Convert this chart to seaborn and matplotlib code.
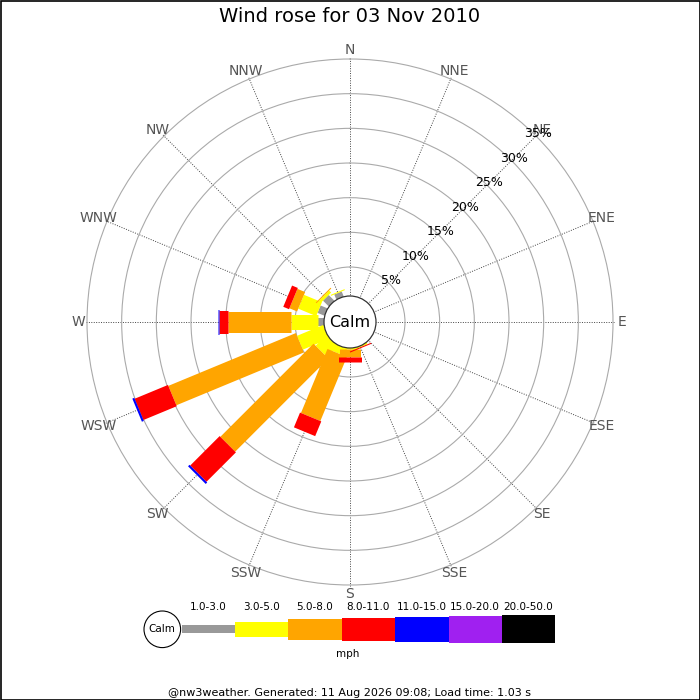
import numpy as np
import pandas as pd
import matplotlib
matplotlib.use("Agg")
import matplotlib.pyplot as plt
from matplotlib.patches import Circle, Rectangle
import seaborn as sns

# ---------------- data ----------------
directions = ["N", "NNE", "NE", "ENE", "E", "ESE", "SE", "SSE",
              "S", "SSW", "SW", "WSW", "W", "WNW", "NW", "NNW"]
speed_bins = ["1.0-3.0", "3.0-5.0", "5.0-8.0", "8.0-11.0",
              "11.0-15.0", "15.0-20.0", "20.0-50.0"]
# percentage of time per direction for each speed bin (mph)
pct_1_3   = [0, 0, 0, 0, 0, 0, 0, 0.5, 0.3, 0.5, 0.6, 0.8, 1.7, 1.9, 2.0, 1.6]
pct_3_5   = [0, 0, 0, 0, 0, 0, 0, 0.5, 0.6, 1.4, 2.4, 4.1, 3.9, 2.8, 0.4, 0.15]
pct_5_8   = [0, 0, 0, 0, 0, 0, 0, 0.0, 1.2, 10.0, 19.0, 19.9, 9.0, 1.2, 0.15, 0]
pct_8_11  = [0, 0, 0, 0, 0, 0, 0, 0.15, 0.7, 2.3, 6.0, 5.2, 1.3, 0.9, 0, 0]
pct_11_15 = [0, 0, 0, 0, 0, 0, 0, 0, 0, 0, 0.3, 0.3, 0.2, 0, 0, 0]
pct_15_20 = [0] * 16
pct_20_50 = [0] * 16
ring_pcts = [5, 10, 15, 20, 25, 30, 35]

title_text = "Wind rose for 03 Nov 2010"
unit_text = "mph"
calm_text = "Calm"
footer_text = "@nw3weather. Generated: 11 Aug 2026 09:08; Load time: 1.03 s"

# ---------------- styles ----------------
bin_colors = ["#999999", "#ffff00", "#ffa500", "#ff0000",
              "#0000ff", "#a020f0", "#000000"]
bin_width_px = [8, 15, 21, 23, 25, 27, 28]

sns.set_theme(style="white")
plt.rcParams["font.family"] = ["DejaVu Sans"]
plt.rcParams["text.color"] = "black"

DPI = 100
fig = plt.figure(figsize=(7, 7), dpi=DPI)
fig.patch.set_facecolor("white")

R_ORIGIN = -2.93
R_MAX = 35.3
R_PIX = 263 * (R_MAX - R_ORIGIN) / (35 - R_ORIGIN)
cx, cy = 350, 700 - 322
ax = fig.add_axes([(cx - R_PIX) / 700, (cy - R_PIX) / 700,
                   2 * R_PIX / 700, 2 * R_PIX / 700], projection="polar")
ax.set_theta_zero_location("N")
ax.set_theta_direction(-1)

# ---------------- bars ----------------
series = [pct_1_3, pct_3_5, pct_5_8, pct_8_11, pct_11_15, pct_15_20, pct_20_50]
thetas = np.deg2rad(np.arange(16) * 22.5)
rows = []
seg = 0
for i, d in enumerate(directions):
    base = 0.0
    for j, b in enumerate(speed_bins):
        v = series[j][i]
        if v > 0:
            rows.append(dict(theta=thetas[i], r=base, seg=seg, bin=b))
            rows.append(dict(theta=thetas[i], r=base + v, seg=seg, bin=b))
            seg += 1
        base += v
df = pd.DataFrame(rows)

palette = {b: c for b, c in zip(speed_bins, bin_colors)}
sizes = {b: w * 72 / DPI for b, w in zip(speed_bins, bin_width_px)}
present = [b for b in speed_bins if b in set(df["bin"])]
sns.lineplot(data=df, x="theta", y="r", hue="bin", size="bin", units="seg",
             estimator=None, sort=False, hue_order=present, size_order=present,
             palette={b: palette[b] for b in present},
             sizes={b: sizes[b] for b in present},
             legend=False, ax=ax, solid_capstyle="butt", zorder=3)
ax.set_xlabel("")
ax.set_ylabel("")

ax.set_rorigin(R_ORIGIN)
ax.set_ylim(0, R_MAX)
ax.set_yticks(ring_pcts)
ax.set_yticklabels([])
ax.set_xticks(thetas)
ax.set_xticklabels([])
ax.yaxis.grid(True, color="#aaaaaa", lw=0.8, ls="-")
ax.xaxis.grid(True, color="#444444", lw=0.7, ls=(0, (1, 1.5)))
for sp in ax.spines.values():
    sp.set_visible(False)
ax.set_facecolor("none")

# direction labels
for t, d in zip(thetas, directions):
    ax.text(t, 36.3, d, ha="center", va="center", fontsize=10,
            color="#555555", clip_on=False)

# percentage labels
for p in ring_pcts:
    ax.text(np.deg2rad(45), p + 0.45, f"{p}%", ha="center", va="center",
            fontsize=9, color="black", zorder=4, clip_on=False)

# calm circle
ax.add_patch(Circle((0.5, 0.5), 26 / (2 * R_PIX), transform=ax.transAxes,
                    facecolor="white", edgecolor="#333333", lw=0.9,
                    zorder=6, clip_on=False))
ax.text(0.5, 0.5, calm_text, transform=ax.transAxes, ha="center",
        va="center", fontsize=11.5, color="black", zorder=7)

# ---------------- legend / overlay ----------------
lax = fig.add_axes([0, 0, 1, 1])
lax.set_xlim(0, 700)
lax.set_ylim(700, 0)
lax.axis("off")

x0, wbox, ymid = 181.5, 53.4, 629
for k, (b, c, h) in enumerate(zip(speed_bins, bin_colors, bin_width_px)):
    xs = x0 + k * wbox
    lax.add_patch(Rectangle((xs, ymid - h / 2), wbox, h, facecolor=c,
                            edgecolor="none"))
    lax.text(xs + wbox / 2, 607, b, ha="center", va="center", fontsize=7.5,
             color="black")
lax.add_patch(Circle((162.3, 629.3), 18.3, facecolor="white",
                     edgecolor="black", lw=0.8, zorder=3))
lax.text(162.3, 629.3, calm_text, ha="center", va="center", fontsize=7.5,
         color="black", zorder=4)
lax.text(348, 654, unit_text, ha="center", va="center", fontsize=7.5,
         color="black")
lax.text(350, 692.5, footer_text, ha="center", va="center", fontsize=8,
         color="black")
lax.text(350, 17, title_text, ha="center", va="center", fontsize=14,
         color="black")
lax.add_patch(Rectangle((0.5, 0.5), 699, 699, fill=False, edgecolor="black",
                        lw=1.2, clip_on=False))

fig.savefig("out.png", dpi=DPI, facecolor="white")
